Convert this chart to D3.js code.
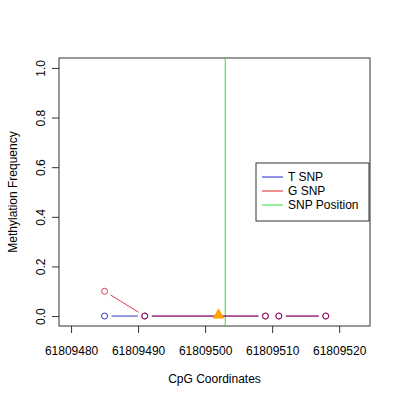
<!DOCTYPE html>
<html lang="en">
<head>
    <meta charset="UTF-8">
    <title>Methylation Frequency</title>
    <script src="https://d3js.org/d3.v7.min.js"></script>
    <style>
        body { margin: 0; background: white; }
        text { font-family: "Liberation Sans", Arial, sans-serif; font-size: 12px; fill: black; }
    </style>
</head>
<body>
    <svg id="chart" width="400" height="400"></svg>
    <script>
        // data
        const tPositions = [61809485, 61809491, 61809509, 61809511, 61809518];
        const tValues = [0, 0, 0, 0, 0];
        const gPositions = [61809485, 61809491, 61809509, 61809511, 61809518];
        const gValues = [0.1, 0, 0, 0, 0];
        const snpPosition = 61809503;
        const markerPosition = 61809502;
        const xTicks = [61809480, 61809490, 61809500, 61809510, 61809520];
        const yTicks = [0, 0.2, 0.4, 0.6, 0.8, 1.0];
        const legendLabels = ["T SNP", "G SNP", "SNP Position"];
        const legendColors = ["#2222cc", "#dd2222", "#33dd33"];

        const svg = d3.select("#chart");
        const plotLeft = 59, plotRight = 370, plotTop = 58, plotBottom = 326;

        const x = d3.scaleLinear().domain([61809478.2, 61809524.6]).range([plotLeft, plotRight]);
        const y = d3.scaleLinear().domain([-0.04, 1.04]).range([plotBottom, plotTop]);

        // axes
        const xAxis = svg.append("g").attr("transform", "translate(0," + plotBottom + ")")
            .call(d3.axisBottom(x).tickValues(xTicks).tickFormat(d3.format("d")).tickSize(7));
        const yAxis = svg.append("g").attr("transform", "translate(" + plotLeft + ",0)")
            .call(d3.axisLeft(y).tickValues(yTicks).tickFormat(d3.format(".1f")).tickSize(7));
        [xAxis, yAxis].forEach(a => {
            a.select(".domain").remove();
            a.selectAll("line").attr("stroke", "#333");
            a.selectAll("text").style("font-size", "12px").attr("font-family", null);
        });
        xAxis.selectAll("text").attr("dy", "0").attr("y", 29);
        yAxis.selectAll("text")
            .attr("text-anchor", "middle")
            .attr("transform", "translate(-14,0) rotate(-90)")
            .attr("x", 0).attr("y", 0).attr("dy", "0");

        svg.append("rect")
            .attr("x", plotLeft).attr("y", plotTop)
            .attr("width", plotRight - plotLeft).attr("height", plotBottom - plotTop)
            .attr("fill", "none").attr("stroke", "#333");

        // axis titles
        svg.append("text").attr("x", (plotLeft + plotRight) / 2).attr("y", 383)
            .attr("text-anchor", "middle").text("CpG Coordinates");
        svg.append("text").attr("transform", "translate(17," + (plotTop + plotBottom) / 2 + ") rotate(-90)")
            .attr("text-anchor", "middle").text("Methylation Frequency");

        // SNP position line
        svg.append("line")
            .attr("x1", x(snpPosition)).attr("x2", x(snpPosition))
            .attr("y1", plotTop).attr("y2", plotBottom)
            .attr("stroke", legendColors[2]).attr("stroke-width", 1);

        // series drawn like R type "b": segments with gaps round the points
        function drawSeries(xs, ys, color, opacity) {
            const pts = xs.map((d, i) => [x(d), y(ys[i])]);
            const g = svg.append("g").attr("opacity", opacity);
            const gap = 7;
            for (let i = 0; i < pts.length - 1; i++) {
                const [x1, y1] = pts[i], [x2, y2] = pts[i + 1];
                const len = Math.hypot(x2 - x1, y2 - y1);
                if (len <= 2 * gap) continue;
                const ux = (x2 - x1) / len, uy = (y2 - y1) / len;
                g.append("line")
                    .attr("x1", x1 + ux * gap).attr("y1", y1 + uy * gap)
                    .attr("x2", x2 - ux * gap).attr("y2", y2 - uy * gap)
                    .attr("stroke", color).attr("stroke-width", 1);
            }
            g.selectAll("circle").data(pts).enter().append("circle")
                .attr("cx", d => d[0]).attr("cy", d => d[1]).attr("r", 3)
                .attr("fill", "none").attr("stroke", color).attr("stroke-width", 1);
        }
        drawSeries(tPositions, tValues, "#0000bb", 0.8);
        drawSeries(gPositions, gValues, "#cc0022", 0.75);

        // SNP marker
        svg.append("path")
            .attr("d", d3.symbol().type(d3.symbolTriangle).size(60)())
            .attr("transform", "translate(" + x(markerPosition) + "," + (y(0) - 1) + ")")
            .attr("fill", "orange");

        // legend
        const lg = svg.append("g").attr("transform", "translate(256,163)");
        lg.append("rect").attr("width", 113).attr("height", 58)
            .attr("fill", "white").attr("stroke", "#333");
        legendLabels.forEach((label, i) => {
            const ly = 14 + i * 14;
            lg.append("line").attr("x1", 6).attr("x2", 27).attr("y1", ly).attr("y2", ly)
                .attr("stroke", legendColors[i]);
            lg.append("text").attr("x", 32).attr("y", ly + 4).text(label);
        });
    </script>
</body>
</html>
